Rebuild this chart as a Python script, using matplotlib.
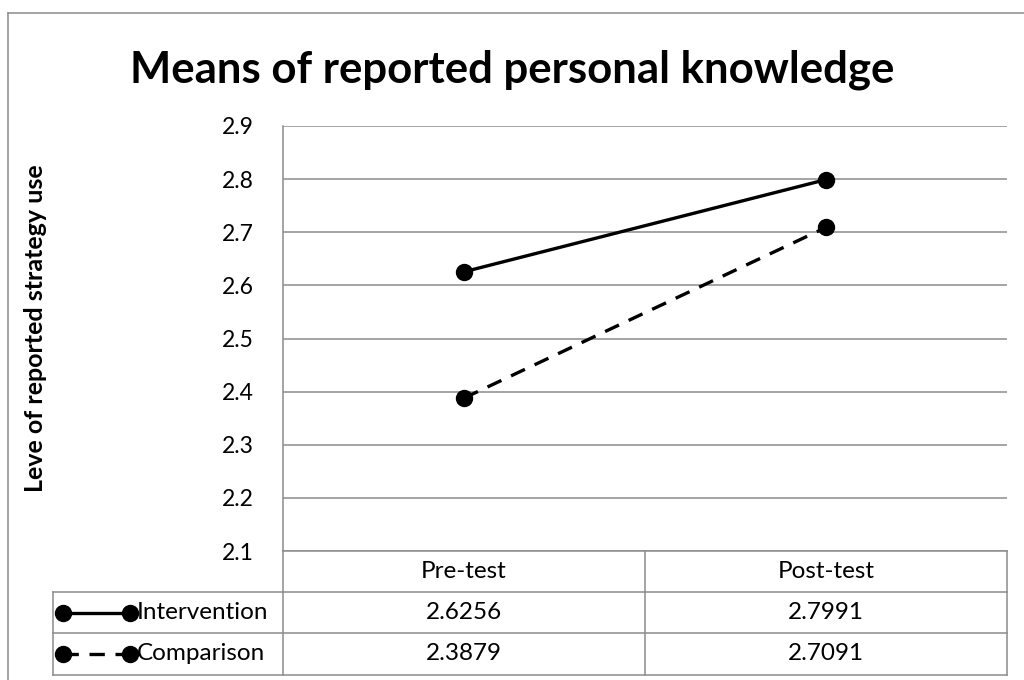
import matplotlib
matplotlib.use("Agg")
import matplotlib.pyplot as plt
from matplotlib.lines import Line2D
from matplotlib import transforms

plt.rcParams['font.family'] = ['Lato', 'DejaVu Sans']

# data
categories = ["Pre-test", "Post-test"]
series_names = ["Intervention", "Comparison"]
intervention = [2.6256, 2.7991]
comparison = [2.3879, 2.7091]
yticks = [2.1, 2.2, 2.3, 2.4, 2.5, 2.6, 2.7, 2.8, 2.9]

W, H = 1024, 680
GRID = "#8c8c8c"

def fx(px):
    return px / W

def fy(py):
    return 1 - py / H

fig = plt.figure(figsize=(W / 100, H / 100), dpi=100)

# plot area (pixel bounds)
left, right, top, bottom = 283, 1007, 126, 551
ax = fig.add_axes([fx(left), fy(bottom), fx(right - left), (bottom - top) / H])

series = [intervention, comparison]
styles = ["-", (0, (4.6, 3.2))]
x = list(range(len(categories)))
for vals, ls in zip(series, styles):
    ax.plot(x, vals, color="black", lw=2.4, linestyle=ls,
            marker="o", markersize=11.5, solid_capstyle="butt")

ax.set_xlim(-0.5, len(categories) - 0.5)
ax.set_ylim(yticks[0], yticks[-1])
ax.set_yticks(yticks)
ax.set_yticklabels([f"{t:.1f}" for t in yticks])
ax.set_xticks([])
ax.tick_params(axis="y", length=0, pad=21, labelsize=16.5)
ax.grid(axis="y", color=GRID, lw=1.1)
ax.set_axisbelow(True)
for s in ["top", "right", "bottom"]:
    ax.spines[s].set_visible(False)
ax.spines["left"].set_color(GRID)
ax.spines["left"].set_linewidth(1.1)

# title and axis label
fig.text(0.5, fy(70), "Means of reported personal knowledge",
         ha="center", va="center", fontsize=31.5, fontweight="bold")
fig.text(fx(36), fy(328), "Leve of reported strategy use", rotation=90,
         ha="center", va="center", fontsize=18, fontweight="bold")

# outer chart border (only left and top visible)
fig.add_artist(Line2D([fx(8), fx(8)], [fy(13), 0], color=GRID, lw=1.1,
                      transform=fig.transFigure))
fig.add_artist(Line2D([fx(8), 1], [fy(13), fy(13)], color=GRID, lw=1.1,
                      transform=fig.transFigure))

# data table below the plot
row_y = [551, 592, 633, 675]
lab_left = 53
blend = transforms.blended_transform_factory(ax.transData, fig.transFigure)

def hline(x0, x1, y):
    fig.add_artist(Line2D([fx(x0), fx(x1)], [fy(y), fy(y)], color=GRID,
                          lw=1.1, transform=fig.transFigure))

def vline(xp, y0, y1):
    fig.add_artist(Line2D([fx(xp), fx(xp)], [fy(y0), fy(y1)], color=GRID,
                          lw=1.1, transform=fig.transFigure))

hline(left, right, row_y[0])
for yy in row_y[1:]:
    hline(lab_left, right, yy)
vline(left, bottom, row_y[-1])
vline(right, row_y[0], row_y[-1])
vline(lab_left, row_y[1], row_y[-1])
# column divider between categories, via data coords
for k in range(1, len(categories)):
    fig.add_artist(Line2D([k - 0.5, k - 0.5], [fy(row_y[0]), fy(row_y[-1])],
                          color=GRID, lw=1.1, transform=blend))

fs = 17.5
hdr_y = fy((row_y[0] + row_y[1]) / 2)
for i, c in enumerate(categories):
    fig.text(i, hdr_y, c, ha="center", va="center", fontsize=fs,
             transform=blend)

for r, (name, vals, ls) in enumerate(zip(series_names, series, styles)):
    yc = fy((row_y[r + 1] + row_y[r + 2]) / 2)
    fig.add_artist(Line2D([fx(63), fx(130)], [yc, yc], color="black",
                          lw=2.4, linestyle=ls, marker="o", markersize=11.5,
                          transform=fig.transFigure))
    fig.text(fx(137), yc, name, ha="left", va="center", fontsize=fs)
    for i, v in enumerate(vals):
        fig.text(i, yc, f"{v:.4f}", ha="center", va="center", fontsize=fs,
                 transform=blend)

fig.savefig("out.png", dpi=100)
